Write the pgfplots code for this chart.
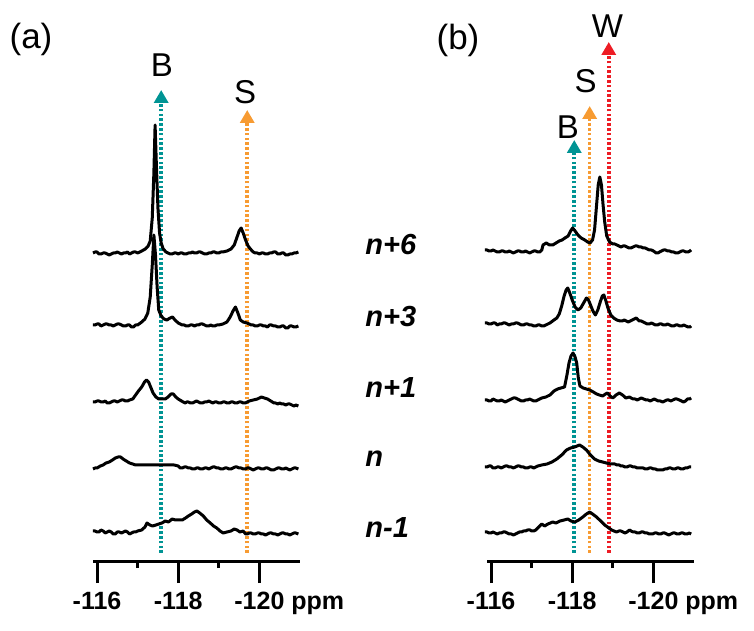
\documentclass[border=0pt]{standalone}
\usepackage{fontspec}
\setmainfont{Liberation Sans}
\usepackage{pgfplots}
\pgfplotsset{compat=1.18}
\usetikzlibrary{arrows.meta}
\definecolor{cB}{RGB}{0,148,148}
\definecolor{cS}{RGB}{247,155,50}
\definecolor{cW}{RGB}{237,28,36}
\pgfplotsset{
  nmr/.style={
    scale only axis, width=103.5pt, height=281pt,
    xmin=-121.0, xmax=-115.9, x dir=reverse,
    ymin=0, ymax=562, clip=false,
    axis x line*=bottom, axis y line=none,
    axis line style={line width=1.5pt,-},
    xtick={-116,-118,-120}, minor xtick={-117,-119},
    xtick align=outside,
    major tick length=10.5pt, minor tick length=3pt,
    every tick/.style={line width=1.5pt,black},
    xticklabels={-116,-118,{-120\rlap{ ppm}}},
    xticklabel style={font=\fontsize{12.5}{14}\selectfont\bfseries, yshift=-1pt},
  },
  spec/.style={black, line width=1.5pt, line join=round},
  guide/.style={line width=1.8pt, dash pattern=on 1.3pt off 1.1pt, -{Triangle[width=7pt,length=6.5pt]}},
}
\begin{document}
\begin{tikzpicture}
\path[use as bounding box] (0,0) rectangle (377pt,315.5pt);
% ---------------- panel (a) ----------------
\begin{axis}[nmr, at={(46.5pt,34.5pt)}, anchor=south west]
\addplot[guide, cB] coordinates {(-117.58,9) (-117.58,472)};
\addplot[guide, cS] coordinates {(-119.70,9) (-119.70,452)};
% n+6
\addplot[spec] table[y expr=\thisrowno{1}+309] {
x y
-115.90 0
-115.95 1
-116.00 1
-116.05 -1
-116.10 -1
-116.15 0
-116.20 0
-116.25 -1
-116.30 -2
-116.35 -1
-116.40 0
-116.45 0
-116.50 1
-116.55 0
-116.60 -1
-116.65 0
-116.70 0
-116.75 1
-116.80 -1
-116.85 0
-116.90 1
-116.95 1
-117.00 0
-117.05 1
-117.10 2
-117.19 4
-117.26 7
-117.31 12
-117.36 35
-117.40 80
-117.43 128
-117.46 90
-117.50 45
-117.54 20
-117.58 10
-117.63 4
-117.70 1
-117.75 0
-117.80 -1
-117.85 -1
-117.90 0
-117.95 0
-118.00 -1
-118.05 0
-118.10 0
-118.15 -1
-118.20 -1
-118.25 0
-118.30 0
-118.35 1
-118.40 0
-118.45 0
-118.50 1
-118.55 1
-118.60 0
-118.65 -1
-118.70 -1
-118.75 0
-118.80 0
-118.85 1
-118.90 1
-118.95 0
-119.00 0
-119.05 1
-119.10 1
-119.20 2
-119.30 4
-119.38 8
-119.45 16
-119.50 22
-119.55 25
-119.60 20
-119.65 14
-119.72 7
-119.80 3
-119.85 1
-119.90 0
-119.95 0
-120.00 -1
-120.05 0
-120.10 0
-120.15 -1
-120.20 -1
-120.25 0
-120.30 0
-120.35 1
-120.40 1
-120.45 -1
-120.50 -1
-120.55 0
-120.60 0
-120.65 -2
-120.70 -2
-120.75 -1
-120.80 -1
-120.85 0
-120.90 0
-120.96 1
};
% n+3
\addplot[spec] table[y expr=\thisrowno{1}+237] {
x y
-115.90 0
-115.95 0
-116.00 1
-116.05 1
-116.10 -1
-116.15 0
-116.20 1
-116.25 1
-116.30 0
-116.35 0
-116.40 -1
-116.45 0
-116.50 1
-116.55 1
-116.60 0
-116.65 -1
-116.70 -1
-116.75 0
-116.80 0
-116.85 -2
-116.90 -2
-116.95 0
-117.00 0
-117.10 3
-117.18 6
-117.25 12
-117.31 28
-117.36 60
-117.40 90
-117.44 70
-117.48 38
-117.52 15
-117.58 9
-117.65 6
-117.72 5
-117.80 7
-117.86 8
-117.92 5
-118.00 2
-118.05 1
-118.10 0
-118.15 0
-118.20 -1
-118.25 -1
-118.30 0
-118.35 0
-118.40 -1
-118.45 0
-118.50 0
-118.55 1
-118.60 1
-118.65 0
-118.70 -1
-118.75 -1
-118.80 0
-118.85 -1
-118.90 -1
-118.95 0
-119.00 0
-119.10 1
-119.20 3
-119.28 8
-119.35 14
-119.41 18
-119.47 12
-119.53 5
-119.60 3
-119.69 2
-119.75 1
-119.80 0
-119.85 0
-119.90 -1
-119.95 -1
-120.00 0
-120.05 0
-120.10 -1
-120.15 -1
-120.20 -2
-120.25 0
-120.30 0
-120.35 -1
-120.40 -1
-120.45 -2
-120.50 -2
-120.55 -1
-120.60 -1
-120.65 -3
-120.70 -3
-120.75 -1
-120.80 -1
-120.85 -2
-120.90 -2
-120.96 -1
};
% n+1
\addplot[spec] table[y expr=\thisrowno{1}+160] {
x y
-115.90 0
-115.95 0
-116.00 1
-116.05 1
-116.10 0
-116.15 0
-116.20 1
-116.25 -1
-116.30 -1
-116.35 0
-116.40 1
-116.45 1
-116.50 0
-116.55 1
-116.60 2
-116.65 2
-116.70 1
-116.75 1
-116.80 2
-116.88 3
-116.95 7
-117.02 11
-117.10 15
-117.17 20
-117.22 22
-117.27 20
-117.32 15
-117.38 9
-117.45 5
-117.52 3
-117.60 3
-117.68 3
-117.75 5
-117.82 8
-117.88 8
-117.94 5
-118.00 3
-118.08 1
-118.17 -1
-118.21 0
-118.25 0
-118.30 -1
-118.35 -1
-118.40 0
-118.45 1
-118.50 0
-118.55 -1
-118.60 -1
-118.65 0
-118.70 0
-118.75 1
-118.80 0
-118.85 -1
-118.90 0
-118.95 0
-119.00 -1
-119.05 -1
-119.10 0
-119.15 0
-119.20 -1
-119.25 -1
-119.30 0
-119.35 0
-119.40 -1
-119.45 -1
-119.50 0
-119.55 0
-119.60 -1
-119.65 -1
-119.70 0
-119.75 1
-119.85 2
-119.95 3
-120.05 5
-120.12 4
-120.20 3
-120.28 1
-120.36 -1
-120.40 -1
-120.45 -2
-120.50 -1
-120.55 -2
-120.60 -2
-120.65 -3
-120.70 -2
-120.75 -2
-120.80 -3
-120.85 -4
-120.90 -3
-120.96 -4
};
% n
\addplot[spec] table[y expr=\thisrowno{1}+95] {
x y
-115.90 -2
-115.95 -1
-116.00 -1
-116.08 1
-116.15 2
-116.22 4
-116.30 5
-116.38 7
-116.45 9
-116.52 10
-116.58 10
-116.64 8
-116.72 6
-116.80 4
-116.88 3
-116.95 2
-117.10 2
-117.30 2
-117.50 2
-117.70 2
-117.90 2
-118.00 1
-118.05 -1
-118.10 -1
-118.15 0
-118.20 0
-118.25 -1
-118.30 -1
-118.35 -2
-118.40 -2
-118.45 -1
-118.50 -1
-118.55 -2
-118.60 -2
-118.65 -1
-118.70 -1
-118.75 -2
-118.80 -1
-118.85 0
-118.90 0
-118.95 -1
-119.00 -1
-119.05 -2
-119.10 -2
-119.15 -1
-119.20 -1
-119.25 -2
-119.30 -2
-119.35 -1
-119.40 0
-119.45 0
-119.50 -1
-119.55 -1
-119.60 -2
-119.65 -2
-119.70 -1
-119.75 -1
-119.80 -2
-119.85 -3
-119.90 -2
-119.95 -1
-120.00 -1
-120.05 -2
-120.10 -2
-120.15 -1
-120.20 -1
-120.25 -2
-120.30 -3
-120.35 -3
-120.40 -2
-120.45 -1
-120.50 -1
-120.55 -2
-120.60 -2
-120.65 -1
-120.70 -2
-120.75 -3
-120.80 -2
-120.85 -1
-120.90 -1
-120.96 -2
};
% n-1
\addplot[spec] table[y expr=\thisrowno{1}+29] {
x y
-115.90 2
-115.95 2
-116.00 1
-116.05 1
-116.10 3
-116.15 2
-116.20 0
-116.25 1
-116.30 2
-116.35 1
-116.40 -1
-116.45 -1
-116.50 1
-116.55 1
-116.60 0
-116.65 1
-116.70 2
-116.75 1
-116.80 -1
-116.85 0
-116.90 1
-116.95 1
-117.00 2
-117.10 3
-117.18 6
-117.23 10
-117.30 8
-117.37 7
-117.45 8
-117.52 9
-117.60 10
-117.68 12
-117.76 11
-117.85 14
-117.93 13
-118.02 13
-118.10 13
-118.18 15
-118.25 17
-118.33 19
-118.40 21
-118.46 22
-118.53 20
-118.62 17
-118.70 13
-118.79 10
-118.87 7
-118.95 5
-119.03 2
-119.11 0
-119.20 1
-119.30 2
-119.38 4
-119.45 3
-119.52 1
-119.60 2
-119.66 -1
-119.70 -1
-119.75 0
-119.80 0
-119.85 -1
-119.90 -1
-119.95 0
-120.00 0
-120.05 -1
-120.10 -1
-120.15 -2
-120.20 -1
-120.25 0
-120.30 0
-120.35 -1
-120.40 -1
-120.45 -2
-120.50 -1
-120.55 0
-120.60 0
-120.65 -1
-120.70 -1
-120.75 -2
-120.80 -1
-120.85 0
-120.90 0
-120.96 -1
};
\node[font=\fontsize{16.5}{18}\selectfont] at (axis cs:-117.60,497) {B};
\node[font=\fontsize{16.5}{18}\selectfont] at (axis cs:-119.65,470) {S};
\end{axis}
% ---------------- panel (b) ----------------
\begin{axis}[nmr, at={(243.5pt,34.5pt)}, anchor=south west]
\addplot[guide, cB] coordinates {(-118.05,9) (-118.05,422)};
\addplot[guide, cS] coordinates {(-118.43,9) (-118.43,456)};
\addplot[guide, cW] coordinates {(-118.90,9) (-118.90,520)};
% n+6
\addplot[spec] table[y expr=\thisrowno{1}+312] {
x y
-115.85 0
-115.90 0
-115.95 -1
-116.00 -1
-116.05 0
-116.10 -1
-116.15 -2
-116.20 -2
-116.25 -1
-116.30 -1
-116.35 -2
-116.40 -2
-116.45 -1
-116.50 -2
-116.55 -3
-116.60 -2
-116.65 -1
-116.70 -1
-116.75 -2
-116.80 -2
-116.85 -1
-116.90 -2
-116.95 -3
-117.00 -2
-117.05 -1
-117.10 -1
-117.15 -2
-117.20 -2
-117.25 0
-117.28 5
-117.32 6
-117.36 7
-117.44 5
-117.52 5
-117.60 7
-117.68 9
-117.75 10
-117.82 12
-117.90 14
-117.96 19
-118.01 22
-118.07 19
-118.14 15
-118.22 12
-118.31 10
-118.38 8
-118.44 7
-118.50 10
-118.55 20
-118.60 45
-118.64 65
-118.68 73
-118.72 65
-118.76 45
-118.80 28
-118.85 14
-118.92 8
-119.00 6
-119.05 6
-119.10 5
-119.15 4
-119.20 3
-119.25 4
-119.30 4
-119.35 3
-119.40 2
-119.45 2
-119.50 3
-119.55 4
-119.60 4
-119.65 3
-119.70 3
-119.75 2
-119.80 2
-119.85 1
-119.90 0
-119.95 0
-120.00 -1
-120.07 -3
-120.11 -3
-120.15 -2
-120.20 -1
-120.25 0
-120.30 0
-120.35 -1
-120.40 -1
-120.45 -2
-120.50 -2
-120.55 -3
-120.60 -3
-120.65 -2
-120.70 -1
-120.75 -1
-120.80 -2
-120.85 -2
-120.90 -1
-120.93 0
};
% n+3
\addplot[spec] table[y expr=\thisrowno{1}+239] {
x y
-115.85 0
-115.90 0
-115.95 -1
-116.00 -1
-116.05 0
-116.10 0
-116.15 -2
-116.20 -1
-116.25 -1
-116.30 0
-116.35 0
-116.40 -1
-116.45 -2
-116.50 -1
-116.55 -1
-116.60 0
-116.65 0
-116.70 -1
-116.75 -2
-116.80 -2
-116.85 -1
-116.90 -1
-116.95 -2
-117.00 -2
-117.05 -3
-117.10 -3
-117.15 -2
-117.20 -2
-117.25 -3
-117.30 -3
-117.35 -2
-117.40 -1
-117.45 0
-117.55 3
-117.62 5
-117.68 9
-117.74 17
-117.80 27
-117.85 33
-117.89 35
-117.94 30
-118.00 23
-118.07 16
-118.14 13
-118.21 15
-118.28 20
-118.35 25
-118.40 23
-118.45 18
-118.51 12
-118.57 8
-118.63 13
-118.69 21
-118.74 27
-118.78 28
-118.83 22
-118.88 15
-118.95 8
-119.02 5
-119.10 3
-119.18 2
-119.23 2
-119.28 3
-119.33 2
-119.38 1
-119.43 2
-119.48 3
-119.53 4
-119.58 5
-119.65 2
-119.70 2
-119.75 1
-119.80 0
-119.85 -1
-119.90 -1
-119.95 0
-120.00 -1
-120.05 -2
-120.10 -2
-120.15 -1
-120.20 -1
-120.25 -2
-120.30 -2
-120.35 -1
-120.40 -2
-120.45 -3
-120.50 -3
-120.55 -2
-120.60 -2
-120.65 -3
-120.70 -3
-120.75 -2
-120.80 -3
-120.85 -4
-120.90 -4
-120.93 -3
};
% n+1
\addplot[spec] table[y expr=\thisrowno{1}+162] {
x y
-115.85 0
-115.90 0
-115.95 -1
-116.00 -1
-116.05 1
-116.10 0
-116.15 -1
-116.20 -1
-116.25 0
-116.30 -1
-116.35 -2
-116.40 -1
-116.45 0
-116.50 1
-116.55 2
-116.60 2
-116.65 1
-116.70 0
-116.75 -1
-116.80 -1
-116.85 0
-116.90 0
-116.95 1
-117.00 0
-117.05 -1
-117.10 -1
-117.15 0
-117.20 1
-117.25 2
-117.35 3
-117.45 5
-117.55 9
-117.64 11
-117.72 12
-117.81 13
-117.87 25
-117.92 37
-117.97 44
-118.02 47
-118.07 43
-118.11 37
-118.15 22
-118.19 14
-118.27 12
-118.35 11
-118.43 10
-118.52 8
-118.60 6
-118.67 5
-118.75 4
-118.82 6
-118.87 7
-118.93 4
-119.00 2
-119.08 5
-119.16 7
-119.24 5
-119.32 2
-119.41 3
-119.45 2
-119.50 1
-119.55 1
-119.60 0
-119.65 1
-119.70 2
-119.76 1
-119.82 0
-119.87 0
-119.92 -1
-119.97 0
-120.02 1
-120.07 0
-120.12 -1
-120.17 -1
-120.23 -2
-120.28 -1
-120.33 0
-120.38 0
-120.43 -1
-120.48 0
-120.53 1
-120.58 1
-120.64 0
-120.69 -1
-120.74 -2
-120.79 -1
-120.84 1
-120.89 1
-120.93 2
};
% n
\addplot[spec] table[y expr=\thisrowno{1}+95] {
x y
-115.85 0
-115.90 0
-115.95 1
-116.00 1
-116.05 -1
-116.10 -1
-116.15 0
-116.20 0
-116.25 -1
-116.30 0
-116.35 1
-116.40 1
-116.45 0
-116.50 0
-116.55 -1
-116.60 0
-116.65 1
-116.70 1
-116.75 0
-116.80 0
-116.85 -1
-116.90 -1
-116.95 0
-117.00 0
-117.05 -1
-117.10 0
-117.15 1
-117.25 2
-117.38 3
-117.50 5
-117.62 8
-117.74 12
-117.86 17
-117.96 19
-118.06 20
-118.18 22
-118.26 20
-118.35 17
-118.45 12
-118.55 8
-118.65 6
-118.75 5
-118.84 4
-118.95 3
-119.05 3
-119.10 2
-119.16 2
-119.20 1
-119.25 1
-119.30 0
-119.35 0
-119.40 1
-119.45 1
-119.50 0
-119.55 0
-119.60 -1
-119.65 -1
-119.70 -1
-119.75 -1
-119.80 -2
-119.85 -2
-119.90 -1
-119.95 -1
-120.00 -2
-120.05 -2
-120.10 -3
-120.15 -3
-120.23 -3
-120.28 -2
-120.33 -2
-120.38 -1
-120.43 -1
-120.48 -2
-120.53 -2
-120.58 -1
-120.63 -1
-120.68 -2
-120.73 -2
-120.78 -1
-120.83 -1
-120.88 0
-120.93 0
};
% n-1
\addplot[spec] table[y expr=\thisrowno{1}+30] {
x y
-115.85 0
-115.90 0
-115.95 -1
-116.00 -1
-116.05 0
-116.10 -1
-116.15 -2
-116.20 -1
-116.25 -1
-116.30 0
-116.35 0
-116.40 -1
-116.45 -2
-116.50 -2
-116.55 -3
-116.60 -2
-116.65 -1
-116.70 0
-116.75 0
-116.80 1
-116.85 1
-116.90 2
-116.96 2
-117.00 1
-117.05 1
-117.10 2
-117.15 4
-117.25 8
-117.32 6
-117.40 8
-117.52 10
-117.60 9
-117.70 11
-117.80 12
-117.89 13
-117.97 11
-118.06 10
-118.16 12
-118.26 15
-118.35 18
-118.43 20
-118.50 18
-118.60 15
-118.70 11
-118.80 7
-118.87 5
-118.97 2
-119.09 0
-119.15 1
-119.20 1
-119.25 0
-119.30 -1
-119.35 0
-119.41 2
-119.45 1
-119.50 0
-119.55 0
-119.60 -1
-119.65 -1
-119.70 0
-119.75 0
-119.80 -1
-119.85 -1
-119.90 -2
-119.98 -2
-120.03 -1
-120.08 -1
-120.13 -2
-120.18 -2
-120.23 -1
-120.28 -1
-120.33 -2
-120.38 -3
-120.43 -2
-120.48 -1
-120.53 -1
-120.58 -2
-120.63 -2
-120.68 -1
-120.73 -1
-120.78 -2
-120.83 -2
-120.88 -1
-120.93 -2
};
\node[font=\fontsize{16.5}{18}\selectfont] at (axis cs:-117.89,435) {B};
\node[font=\fontsize{16.5}{18}\selectfont] at (axis cs:-118.33,481) {S};
\node[font=\fontsize{16.5}{18}\selectfont] at (axis cs:-118.87,536) {W};
\end{axis}
% ---------------- labels ----------------
\node[font=\fontsize{17.5}{20}\selectfont] at (15.5pt,296pt) {(a)};
\node[font=\fontsize{17.5}{20}\selectfont] at (229pt,295.5pt) {(b)};
\begin{scope}[every node/.style={anchor=base west, inner sep=0pt, font=\fontsize{14.5}{16}\selectfont\bfseries\itshape}]
\node at (182.5pt,188pt) {n+6};
\node at (182.5pt,152pt) {n+3};
\node at (182.5pt,116.5pt) {n+1};
\node at (182.5pt,82pt) {n};
\node at (182.5pt,46.5pt) {n-1};
\end{scope}
\end{tikzpicture}
\end{document}
